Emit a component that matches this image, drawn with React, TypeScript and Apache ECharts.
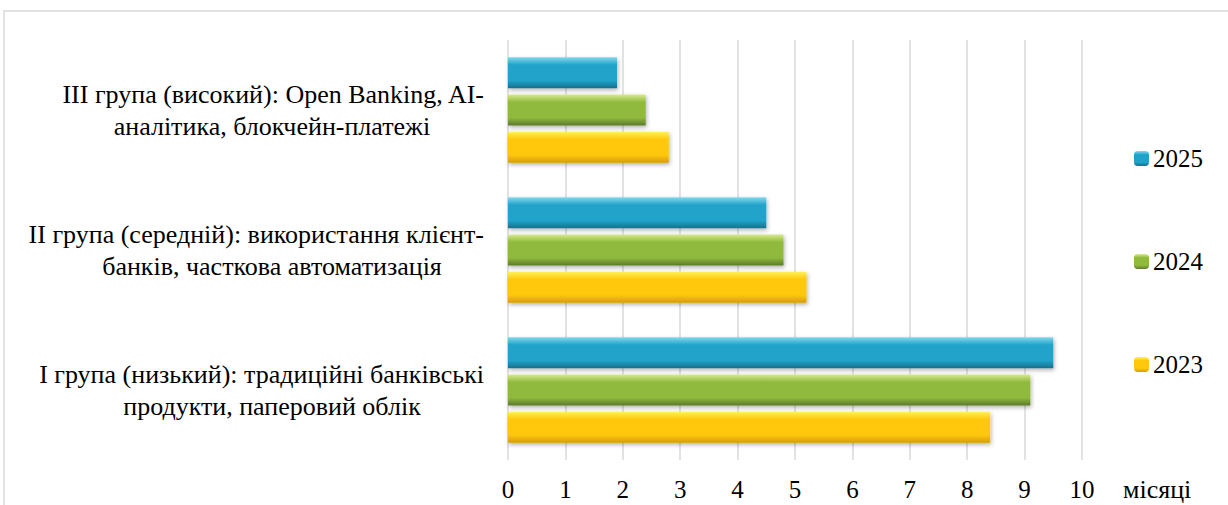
import React, { useEffect, useRef } from "react";
import * as echarts from "echarts";

const categories = [
  "I група (низький): традиційні банківські\nпродукти, паперовий облік",
  "II група (середній): використання клієнт-\nбанків, часткова автоматизація",
  "III група (високий): Open Banking, AI-\nаналітика, блокчейн-платежі",
];
const years = ["2025", "2024", "2023"];
const values2023 = [8.4, 5.2, 2.8];
const values2024 = [9.1, 4.8, 2.4];
const values2025 = [9.5, 4.5, 1.9];
const legendOrder = ["2025", "2024", "2023"];
const axisName = "місяці";

const FONT = "Liberation Serif";

const grad = (top: string, mid: string, bot: string) =>
  new echarts.graphic.LinearGradient(0, 0, 0, 1, [
    { offset: 0, color: top },
    { offset: 0.25, color: mid },
    { offset: 0.75, color: mid },
    { offset: 1, color: bot },
  ]);

export default function App() {
  const ref = useRef<HTMLDivElement>(null);
  useEffect(() => {
    document.body.style.margin = "0";
    if (!ref.current) return;
    const chart = echarts.init(ref.current, null, { renderer: "svg" });
    const colors = [
      grad("#86d8ee", "#20a3c9", "#17708c"),
      grad("#d9ea8f", "#8fba3c", "#5c7a2c"),
      grad("#fff25a", "#ffc80a", "#d79c08"),
    ];
    const dataSets = [values2025, values2024, values2023];
    const labelStyle = { fontFamily: FONT, fontSize: 26, lineHeight: 32, color: "#000" };
    chart.setOption({
      animation: false,
      textStyle: { fontFamily: FONT },
      graphic: [
        {
          type: "rect",
          shape: { x: 4, y: 11, width: 1400, height: 700 },
          style: { fill: "none", stroke: "#d9d9d9", lineWidth: 1.5 },
          silent: true,
        },
      ],
      grid: { left: 508, right: 146, top: 40, bottom: 45 },
      legend: {
        data: legendOrder,
        orient: "vertical",
        left: 1134,
        top: 146,
        padding: 0,
        itemWidth: 15,
        itemHeight: 15,
        itemGap: 78,
        textStyle: { fontFamily: FONT, fontSize: 25, color: "#000", padding: [0, 0, 0, -1] },
      },
      xAxis: {
        type: "value",
        min: 0,
        max: 10,
        interval: 1,
        axisLine: { show: false },
        axisTick: { show: false },
        splitLine: { lineStyle: { color: "#d9d9d9", width: 1.5 } },
        axisLabel: { fontFamily: FONT, fontSize: 25, color: "#000", margin: 17 },
        name: axisName,
        nameLocation: "end",
        nameGap: 41,
        nameTextStyle: {
          fontFamily: FONT,
          fontSize: 26,
          color: "#000",
          align: "left",
          verticalAlign: "top",
          lineHeight: 26,
          padding: [16, 0, 0, 0],
        },
      },
      yAxis: {
        type: "category",
        data: categories,
        axisLine: { show: false },
        axisTick: { show: false },
        axisLabel: {
          ...labelStyle,
          align: "right",
          margin: 24,
          width: 424,
          overflow: "none",
          formatter: (v: string) => {
            const [a, b] = v.split("\n");
            return `{a|${a}}\n{b|${b}}`;
          },
          rich: {
            a: { ...labelStyle, align: "right" },
            b: { ...labelStyle, align: "center" },
          },
        },
      },
      series: years.map((y, i) => ({
        name: y,
        type: "bar",
        data: dataSets[i],
        barWidth: 31,
        barGap: "20%",
        itemStyle: {
          color: colors[i],
          shadowBlur: 4,
          shadowColor: "rgba(0,0,0,0.3)",
          shadowOffsetY: 2,
          shadowOffsetX: 1,
        },
      })),
    });
    return () => chart.dispose();
  }, []);
  return <div ref={ref} style={{ width: 1228, height: 505 }} />;
}
